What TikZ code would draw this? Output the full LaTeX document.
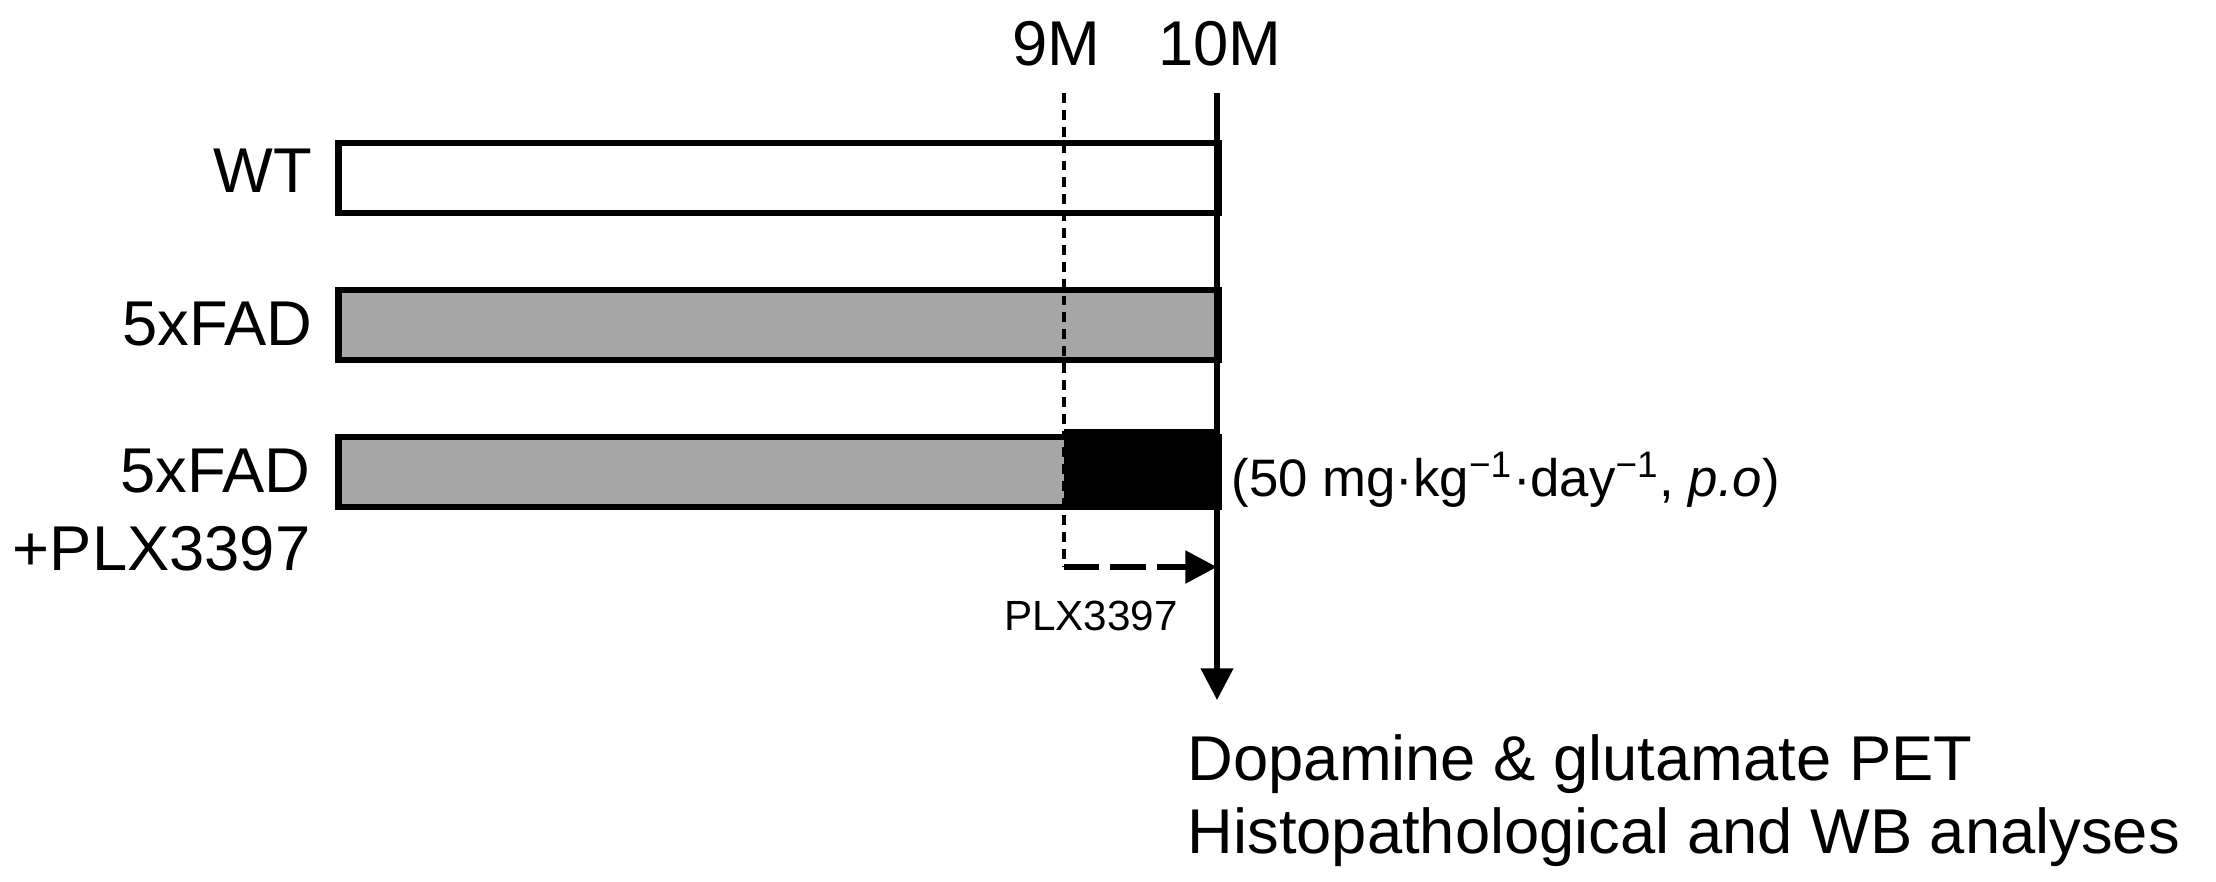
\documentclass[tikz,border=0pt]{standalone}
\usepackage{fontspec}
\setmainfont{Liberation Sans}
\usetikzlibrary{arrows.meta, positioning}

\definecolor{bargray}{RGB}{166,166,166}

\tikzset{
    bar/.style={rectangle, draw=black, line width=1.9pt, inner sep=0pt,
                minimum width=8.80cm, minimum height=0.70cm, anchor=west},
    biglbl/.style={font=\fontsize{18}{20.7}\selectfont, inner sep=0pt},
    smalllbl/.style={font=\fontsize{12}{15}\selectfont, inner sep=0pt},
}

\begin{document}
\begin{tikzpicture}[x=0.01cm, y=-0.01cm]
\useasboundingbox (0,0) rectangle (2216,881);

% groups
\node (wt) [bar, fill=white] at (335,178) {};
\node (fad) [bar, fill=bargray] at (335,325) {};
\node (plx) [bar, fill=bargray] at (335,472) {};
\node (drug) [rectangle, fill=black, inner sep=0pt,
              minimum width=1.56cm, minimum height=0.79cm] at (1142,468.5) {};

\begin{scope}[every node/.style={biglbl}]
    \node (lwt) [anchor=base east] at (313,192) {WT};
    \node (lfad) [anchor=base east] at (313,345) {5xFAD};
    \node (lplx) [anchor=base east, align=right] at (311,570) {5xFAD\\[1.4pt]+PLX3397};

    \node (m9) [anchor=base] at (1056,65) {9M};
    \node (m10) [anchor=base] at (1220,65) {10M};

    \node (out) [anchor=base west, align=left] at (1187,853)
        {Dopamine \& glutamate PET\\Histopathological and WB analyses};
\end{scope}

\node (dose) [smalllbl, font=\fontsize{15}{18}\selectfont, anchor=base west] at (1231,496)
    {(50 mg·kg\textsuperscript{−1}·day\textsuperscript{−1}, \textit{p.o})};
\node (plxlbl) [smalllbl, anchor=base] at (1091,630) {PLX3397};

\coordinate (t9) at (1064,93);
\coordinate (d9) at (1064,567);
\coordinate (t10) at (1217,93);
\coordinate (e10) at (1217,700);
\coordinate (d10) at (1217,567);

\begin{scope}[>={Triangle[length=9pt, width=9pt]}]
    \draw [line width=0.9pt, dash pattern=on 2.8pt off 2pt] (t9) -- (d9);
    \draw [->, line width=1.8pt, dash pattern=on 10pt off 3.2pt] (d9) -- (d10);
    \draw [->, line width=1.5pt] (t10) -- (e10);
\end{scope}
\end{tikzpicture}
\end{document}
